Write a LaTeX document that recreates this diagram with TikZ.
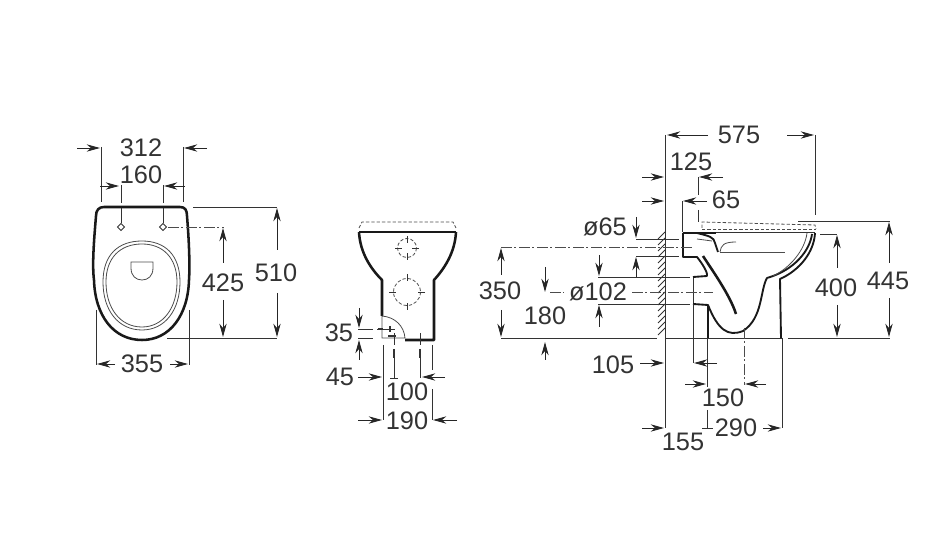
\documentclass[tikz,border=0pt]{standalone}
\usepackage{fontspec}
\setmainfont{Liberation Sans}
\usetikzlibrary{arrows.meta}

\begin{document}
\begin{tikzpicture}[
    x=0.75pt, y=-0.75pt,
    ink/.style={black!80},
    thinline/.style={ink, line width=0.7pt},
    body/.style={black!90, line width=1.9pt, line join=round},
    fineline/.style={black!70, line width=0.6pt},
    hidden/.style={black!70, line width=0.6pt, dash pattern=on 2.5pt off 1.5pt},
    centerline/.style={black!70, line width=0.6pt, dash pattern=on 8pt off 2pt on 1.5pt off 2pt},
    dimarrow/.style={-{Stealth[length=10pt,width=5.5pt]}, black!85, line width=0.7pt},
    dim/.style={font=\fontsize{19}{19}\selectfont, text=black!80, inner sep=0pt}
]
\useasboundingbox (0,0) rectangle (943,534);

% front view: seat
\draw[body] (104,207) -- (180,207) .. controls (185,207) and (187,210) .. (187,216)
    .. controls (189,240) and (190,265) .. (189,280)
    .. controls (188,315) and (170,340) .. (142,340)
    .. controls (113,340) and (95,315) .. (94,280)
    .. controls (92,265) and (94,240) .. (96,216)
    .. controls (96,210) and (99,207) .. (104,207) -- cycle;
\draw[fineline] (142,241) .. controls (165,241) and (180,255) .. (180,282)
    .. controls (180,310) and (165,330) .. (142,330)
    .. controls (118,330) and (103,310) .. (103,282)
    .. controls (103,255) and (118,241) .. (142,241) -- cycle;
\draw[fineline] (142,244) .. controls (163,244) and (177,258) .. (177,282)
    .. controls (177,308) and (163,327) .. (142,327)
    .. controls (120,327) and (106,308) .. (106,282)
    .. controls (106,258) and (120,244) .. (142,244) -- cycle;
\draw[fineline] (131,262) -- (153,262) -- (153,268) .. controls (153,276) and (148,280) .. (142,280)
    .. controls (136,280) and (131,276) .. (131,268) -- cycle;
\foreach \x in {121,163} {
    \draw[thinline] (\x,185) -- (\x,203);
    \draw[thinline] (\x,208) -- (\x,223);
    \draw[thinline] (\x-3.5,227) -- (\x,223.5) -- (\x+3.5,227) -- (\x,230.5) -- cycle;
}
\draw[centerline] (168,227) -- (224,227);
\draw[thinline] (101,147) -- (101,202);
\draw[thinline] (183,147) -- (183,202);
\draw[thinline] (193,207) -- (277,207);
\draw[thinline] (167,338) -- (277,338);
\draw[thinline] (96,310) -- (96,365);
\draw[thinline] (189,310) -- (189,365);

% rear view: pan
\draw[body] (359,232) -- (456,232);
\draw[body] (359,232) .. controls (360,252) and (370,268) .. (382,280) -- (382,316);
\draw[body] (456,232) .. controls (455,252) and (445,268) .. (434,280) -- (434,340) -- (405,340);
\draw[hidden] (359,228) -- (362,222) -- (453,222) -- (456,228);
\draw[fineline] (382,316) .. controls (395,317) and (404,326) .. (405,338) -- (382,338) -- (382,316);
\draw[hidden] (407,248) circle (9.5);
\draw[hidden] (407,292) circle (13.5);
\foreach \cx/\cy/\r in {407/248/12, 407/292/18} {
    \draw[thinline] (\cx-\r,\cy) -- (\cx-\r+7,\cy);
    \draw[thinline] (\cx+\r,\cy) -- (\cx+\r-7,\cy);
    \draw[thinline] (\cx,\cy-\r) -- (\cx,\cy-\r+7);
    \draw[thinline] (\cx,\cy+\r) -- (\cx,\cy+\r-7);
}
% fixing bolts
\draw[thinline] (377,329) -- (395,329);
\draw[black!80, line width=1.4pt] (378,329) -- (383,329) (390,326) -- (390,332) (388,336) -- (396,336);
\foreach \x in {394,420} {
    \draw[black!80, line width=1.6pt] (\x,349) -- (\x,358);
    \draw[thinline] (\x,333) -- (\x,345);
    \draw[thinline] (\x,358) -- (\x,378);
}
\draw[thinline] (358,329) -- (373,329);
\draw[thinline] (358,338) -- (373,338);
\draw[thinline] (383,345) -- (383,420);
\draw[thinline] (432,345) -- (432,370);
\draw[thinline] (432,389) -- (432,420);
\draw[thinline] (390,378) -- (398,378);

% side view: wall and floor
\draw[thinline] (665,135) -- (665,428);
\foreach \y in {232,238,...,330} \draw[thinline] (658,\y+7) -- (665,\y);
\draw[thinline] (501,338) -- (657,338);
\draw[thinline] (666,338) -- (782,338);
\draw[thinline] (788,338) -- (890,338);

% side view: bowl
\draw[body] (683,233) -- (716,233);
\draw[black!80, line width=0.7pt] (716,232) -- (815,232);
\draw[hidden] (702,228) -- (702,222) -- (815,225) -- (816,229);
\draw[hidden] (702,229) -- (816,229);
\draw[body, line width=1.4pt] (683,233) -- (683,257) -- (697,257) .. controls (701,262) and (708,272) .. (707,276) -- (693,277);
\draw[body, line width=1.4pt] (697,233) .. controls (709,236) and (714,237) .. (715,243) -- (718,252);
\draw[fineline] (697,239) -- (712,241);
\draw[fineline] (720,252) .. controls (721,245) and (724,242) .. (736,242);
\draw[fineline] (720,252) -- (785,252);
\draw[body] (703,256) .. controls (712,270) and (730,295) .. (736,314);
\draw[body, line width=1.4pt] (812,234) .. controls (810,250) and (795,270) .. (767,278)
    .. controls (760,290) and (763,318) .. (743,331) .. controls (728,337) and (718,330) .. (708,305) -- (693,304);
\draw[body] (708,305) -- (708,338);
\draw[body, line width=1.4pt] (815,233) .. controls (814,252) and (800,270) .. (780,279) -- (781,338);
\draw[fineline] (807,233) .. controls (805,250) and (790,268) .. (773,276);
\draw[thinline] (693,278) -- (693,303);
\draw[thinline] (693,304) -- (693,363);
\draw[thinline] (707,338) -- (707,387);
\draw[thinline] (707,410) -- (707,428);
\draw[thinline] (702,428) -- (713,428);
\draw[centerline] (744,328) -- (744,385);
\draw[thinline] (782,338) -- (782,428);
\draw[thinline] (815,135) -- (815,215);
\draw[thinline] (798,221) -- (890,221);
\draw[thinline] (820,234) -- (837,234);
\draw[thinline] (698,177) -- (698,195);
\draw[thinline] (698,210) -- (698,222);
\draw[thinline] (682,201) -- (682,232);
\draw[thinline] (636,239) -- (679,239);
\draw[thinline] (636,256) -- (679,256);
\draw[thinline] (598,277) -- (690,277);
\draw[thinline] (598,304) -- (690,304);
\draw[centerline] (501,247) -- (693,247);
\draw[centerline] (550,292) -- (564,292);
\draw[centerline] (632,292) -- (713,292);

% dimension arrows
\foreach \xa/\ya/\xb/\yb in {
    77/148/100/148, 207/148/184/148, 100/186/119/186, 185/186/164/186,
    277/250/277/208, 277/293/277/337, 223/263/223/228, 223/300/223/337,
    115/364/97/364, 170/364/188/364,
    359/308/359/328, 359/360/359/340, 358/377/382/377, 445/377/422/377,
    358/420/382/420, 457/420/433/420,
    708/135/667/135, 787/135/814/135, 642/177/664/177, 723/177/699/177,
    642/201/664/201, 707/201/683/201,
    636/217/636/238, 636/277/636/257, 501/275/501/248, 501/310/501/337,
    545/267/545/292, 545/360/545/342, 599/255/599/276, 599/327/599/305,
    889/263/889/222, 889/298/889/337, 837/268/837/235, 837/305/837/337,
    640/363/664/363, 717/363/694/363, 685/384/706/384, 766/384/745/384,
    763/428/781/428, 642/428/664/428%
} \draw[dimarrow] (\xa,\ya) -- (\xb,\yb);

% dimension labels
\node[dim] (d312) at (141,148) {312};
\node[dim] (d160) at (141,175) {160};
\node[dim] (d510) at (276,273) {510};
\node[dim] (d425) at (223,283) {425};
\node[dim] (d355) at (142,364) {355};
\node[dim] (d35) at (339,333) {35};
\node[dim] (d45) at (340,377) {45};
\node[dim] (d100) at (407,392) {100};
\node[dim] (d190) at (407,421) {190};
\node[dim] (d575) at (739,135) {575};
\node[dim] (d125) at (691,162) {125};
\node[dim] (d65) at (726,200) {65};
\node[dim] (dphi65) at (605,227) {ø65};
\node[dim] (d350) at (500,291) {350};
\node[dim] (dphi102) at (598,292) {ø102};
\node[dim] (d180) at (545,316) {180};
\node[dim] (d400) at (836,288) {400};
\node[dim] (d445) at (888,281) {445};
\node[dim] (d105) at (613,365) {105};
\node[dim] (d150) at (723,398) {150};
\node[dim] (d290) at (736,428) {290};
\node[dim] (d155) at (683,442) {155};

\end{tikzpicture}
\end{document}
